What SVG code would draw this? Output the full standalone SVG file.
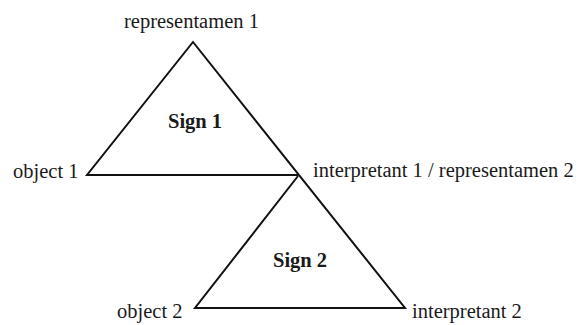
<svg xmlns="http://www.w3.org/2000/svg" width="583" height="325" viewBox="0 0 583 325">
<style>
text{font-family:"Liberation Serif","Times New Roman",serif;font-size:20.5px;fill:#1a1a1a}
.b{font-weight:bold}
.l{fill:none;stroke:#111;stroke-width:2;stroke-linejoin:miter}
</style>
<rect width="583" height="325" fill="#fff"/>
<g id="connectors">
<polyline class="l" points="298,175 87,175 193,42 405,308 195,308 298,176"/>
</g>
<g id="representamen1"><text x="124" y="28">representamen 1</text></g>
<g id="sign1"><text class="b" x="168" y="128">Sign 1</text></g>
<g id="object1"><text x="13" y="178">object 1</text></g>
<g id="interpretant1"><text x="313" y="177">interpretant 1 / representamen 2</text></g>
<g id="sign2"><text class="b" x="273" y="267">Sign 2</text></g>
<g id="object2"><text x="117" y="318">object 2</text></g>
<g id="interpretant2"><text x="412" y="318">interpretant 2</text></g>
</svg>
